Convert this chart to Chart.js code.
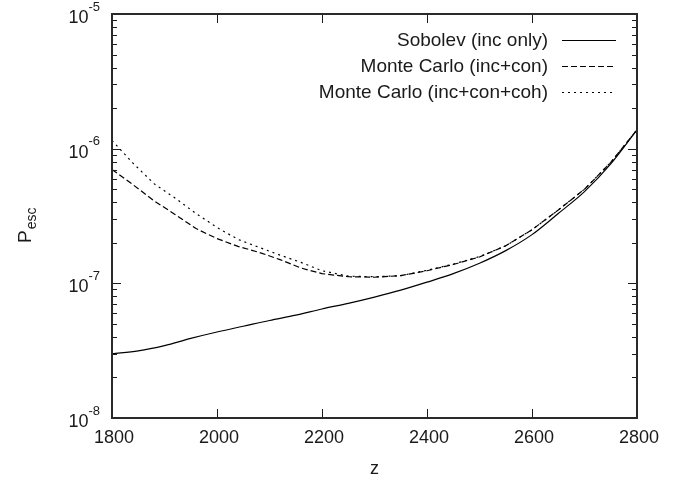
<!DOCTYPE html>
<html lang="en">
<head>
<meta charset="UTF-8" />
<title>Escape probability vs z</title>
<script src="https://cdn.jsdelivr.net/npm/chart.js"></script>
<style>
  body { margin: 0; background: #fff; }
  #wrap { width: 688px; height: 480px; }
</style>
</head>
<body>
<div id="wrap"><canvas id="escChart" width="688" height="480"></canvas></div>
<script>
  // Sobolev (inc only)
  const zSob = [1800, 1850, 1900, 1950, 2000, 2050, 2100, 2150, 2200, 2250, 2300,
                2350, 2400, 2450, 2500, 2550, 2600, 2650, 2700, 2750, 2800];
  const pSob = [3.0e-8, 3.15e-8, 3.45e-8, 3.9e-8, 4.35e-8, 4.8e-8, 5.3e-8, 5.8e-8, 6.45e-8, 7.1e-8, 7.9e-8,
                8.9e-8, 1.02e-7, 1.18e-7, 1.41e-7, 1.75e-7, 2.3e-7, 3.3e-7, 4.8e-7, 7.7e-7, 1.38e-6];

  // Monte Carlo runs
  const zMC = [1800, 1840, 1880, 1920, 1960, 2000, 2040, 2080, 2120, 2160, 2200,
               2250, 2300, 2350, 2400, 2450, 2500, 2550, 2600, 2650, 2700, 2750, 2800];
  const pMCcon = [7.0e-7, 5.4e-7, 4.1e-7, 3.25e-7, 2.55e-7, 2.15e-7, 1.88e-7, 1.7e-7, 1.5e-7, 1.3e-7, 1.18e-7,
                  1.12e-7, 1.11e-7, 1.14e-7, 1.24e-7, 1.38e-7, 1.57e-7, 1.9e-7, 2.5e-7, 3.5e-7, 5.0e-7, 7.9e-7, 1.38e-6];
  const pMCcoh = [1.15e-6, 7.8e-7, 5.5e-7, 4.3e-7, 3.3e-7, 2.6e-7, 2.12e-7, 1.85e-7, 1.62e-7, 1.43e-7, 1.24e-7,
                  1.13e-7, 1.12e-7, 1.14e-7, 1.25e-7, 1.39e-7, 1.58e-7, 1.9e-7, 2.5e-7, 3.5e-7, 5.0e-7, 7.9e-7, 1.38e-6];

  const seriesLabels = ["Sobolev (inc only)", "Monte Carlo (inc+con)", "Monte Carlo (inc+con+coh)"];
  const xTicks = [1800, 2000, 2200, 2400, 2600, 2800];
  const yDecades = [-8, -7, -6, -5];

  const FONT = "'Liberation Sans', Arial, sans-serif";
  const INK = "#1a1a1a";

  function pts(xs, ys) {
    return xs.map((x, i) => ({ x: x, y: ys[i] }));
  }

  // gnuplot style frame, inward ticks, labels and key
  const gnuplotLook = {
    id: "gnuplotLook",
    afterDraw(chart) {
      const ctx = chart.ctx;
      const a = chart.chartArea;
      const xs = chart.scales.x;
      const ys = chart.scales.y;
      ctx.save();

      // y ticks (log): majors at decades, minors 2..9
      ctx.strokeStyle = INK;
      ctx.lineWidth = 1;
      yDecades.forEach((d, k) => {
        const last = k === yDecades.length - 1;
        for (let m = 1; m <= (last ? 1 : 9); m++) {
          const py = Math.round(ys.getPixelForValue(m * Math.pow(10, d))) + 0.5;
          const len = m === 1 ? 9 : 5;
          ctx.beginPath();
          ctx.moveTo(a.left, py); ctx.lineTo(a.left + len, py);
          ctx.moveTo(a.right, py); ctx.lineTo(a.right - len, py);
          ctx.stroke();
        }
      });
      // x ticks
      xTicks.forEach(v => {
        const px = Math.round(xs.getPixelForValue(v)) + 0.5;
        ctx.beginPath();
        ctx.moveTo(px, a.bottom); ctx.lineTo(px, a.bottom - 9);
        ctx.moveTo(px, a.top); ctx.lineTo(px, a.top + 9);
        ctx.stroke();
      });

      // frame
      ctx.lineWidth = 2;
      ctx.strokeStyle = "#2a2a2a";
      ctx.strokeRect(a.left, a.top, a.right - a.left, a.bottom - a.top);

      ctx.fillStyle = INK;
      // y tick labels 10^n
      yDecades.forEach(d => {
        const py = ys.getPixelForValue(Math.pow(10, d));
        const sup = String(d);
        ctx.font = "13px " + FONT;
        const sw = ctx.measureText(sup).width;
        ctx.textAlign = "left";
        ctx.textBaseline = "middle";
        ctx.fillText(sup, 100 - sw, py - 7);
        ctx.font = "18px " + FONT;
        ctx.textAlign = "right";
        ctx.fillText("10", 100 - sw, py + 4);
      });
      // x tick labels
      ctx.font = "18px " + FONT;
      ctx.textAlign = "center";
      ctx.textBaseline = "middle";
      xTicks.forEach(v => {
        ctx.fillText(String(v), xs.getPixelForValue(v) + 2, 438);
      });
      // axis titles
      ctx.fillText("z", (a.left + a.right) / 2, 469);
      ctx.save();
      ctx.translate(31, 219);
      ctx.rotate(-Math.PI / 2);
      ctx.textAlign = "left";
      ctx.textBaseline = "alphabetic";
      ctx.font = "19px " + FONT;
      const pw = ctx.measureText("P").width;
      ctx.fillText("P", -24, 0);
      ctx.font = "14px " + FONT;
      ctx.fillText("esc", -24 + pw + 1, 5);
      ctx.restore();

      // key
      chart.data.datasets.forEach((ds, i) => {
        const ry = 40 + i * 26;
        ctx.font = "19px " + FONT;
        ctx.textAlign = "right";
        ctx.textBaseline = "middle";
        ctx.fillStyle = INK;
        ctx.fillText(ds.label, 548, ry + 1);
        ctx.beginPath();
        ctx.setLineDash(ds.borderDash || []);
        ctx.lineWidth = ds.borderWidth;
        ctx.strokeStyle = ds.borderColor;
        ctx.moveTo(562, ry + 0.5);
        ctx.lineTo(616, ry + 0.5);
        ctx.stroke();
        ctx.setLineDash([]);
      });
      ctx.restore();
    }
  };

  new Chart(document.getElementById("escChart"), {
    type: "line",
    data: {
      datasets: [{
        label: seriesLabels[0],
        data: pts(zSob, pSob),
        borderColor: "#000",
        borderWidth: 1.2,
        borderDash: [],
        cubicInterpolationMode: "monotone"
      }, {
        label: seriesLabels[1],
        data: pts(zMC, pMCcon),
        borderColor: "#000",
        borderWidth: 1.2,
        borderDash: [6, 3]
      }, {
        label: seriesLabels[2],
        data: pts(zMC, pMCcoh),
        borderColor: "#000",
        borderWidth: 1.2,
        borderDash: [2, 4]
      }]
    },
    options: {
      responsive: false,
      devicePixelRatio: 1,
      animation: false,
      layout: { padding: { left: 112, top: 14, right: 51, bottom: 62 } },
      elements: { point: { radius: 0 }, line: { tension: 0 } },
      plugins: { legend: { display: false }, tooltip: { enabled: false } },
      scales: {
        x: { type: "linear", min: 1800, max: 2800, display: false },
        y: { type: "logarithmic", min: 1e-8, max: 1e-5, display: false }
      }
    },
    plugins: [gnuplotLook]
  });
</script>
</body>
</html>
